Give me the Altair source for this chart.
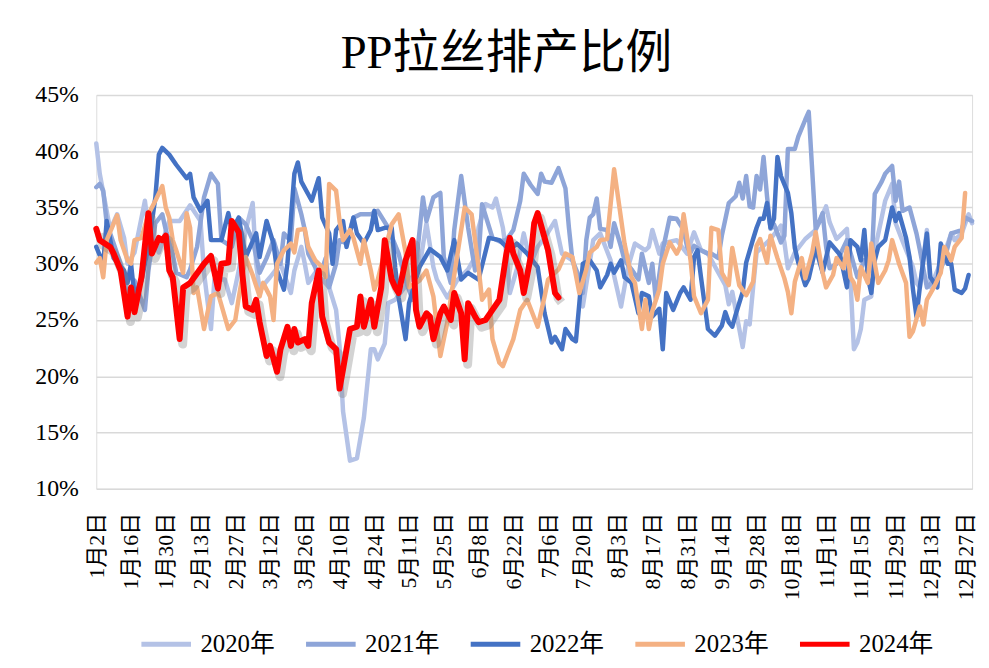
import altair as alt
import pandas as pd

# x-axis category labels (every 10th trading day)
tick_labels = ["1月2日", "1月16日", "1月30日", "2月13日", "2月27日", "3月12日", "3月26日",
               "4月10日", "4月24日", "5月11日", "5月25日", "6月8日", "6月22日", "7月6日",
               "7月20日", "8月3日", "8月17日", "8月31日", "9月14日", "9月28日", "10月18日",
               "11月1日", "11月15日", "11月29日", "12月13日", "12月27日"]

years = ["2020年", "2021年", "2022年", "2023年", "2024年"]
colors = ["#B4C2E6", "#8EA5D8", "#4472C4", "#F4B183", "#FF0000"]

# ---- 2020 ----
idx_2020 = [0, 1, 3, 4, 6, 8, 9, 11, 14, 15, 18, 21, 24, 27, 30, 31, 33, 34, 37, 39, 41, 43, 45, 46, 47,
            50, 53, 56, 57, 59, 60, 61, 63, 65, 67, 69, 70, 71, 73, 75, 77, 79, 80, 81, 83, 84, 86, 89,
            93, 95, 97, 98, 101, 104, 107, 109, 110, 112, 114, 115, 117, 118, 119, 121, 123, 125, 127,
            129, 132, 134, 137, 139, 140, 143, 145, 148, 151, 153, 155, 158, 159, 160, 162, 163, 167,
            170, 172, 174, 176, 179, 181, 182, 183, 186, 187, 188, 189, 190, 194, 197, 198, 199, 201,
            204, 207, 210, 211, 213, 216, 217, 218, 219, 220, 221, 223, 224, 226, 227, 229, 230, 232,
            235, 236, 237, 239, 240, 242, 244, 246, 247, 249, 251, 252]
val_2020 = [40.7, 38.0, 34.7, 33.0, 34.4, 32.3, 30.0, 31.0, 35.6, 33.0, 31.0, 33.8, 33.8, 35.2, 33.8, 29.2,
            24.2, 28.6, 28.6, 26.5, 29.4, 33.0, 35.4, 30.0, 27.7, 28.8, 30.0, 27.4, 29.4, 31.5, 30.0,
            28.3, 29.2, 28.6, 27.9, 25.9, 22.7, 16.9, 12.5, 12.7, 16.3, 22.4, 22.4, 21.5, 22.9, 26.5,
            26.8, 28.0, 29.7, 33.6, 29.7, 28.6, 27.0, 28.6, 29.5, 30.6, 33.2, 35.3, 35.0, 35.8, 33.2,
            30.9, 27.4, 29.5, 32.7, 30.0, 31.5, 32.3, 33.8, 30.9, 30.3, 28.3, 26.2, 32.1, 32.7, 30.3,
            26.2, 29.7, 31.8, 31.2, 31.5, 33.0, 30.9, 31.8, 32.1, 30.9, 32.8, 31.2, 30.9, 29.2, 28.1,
            26.4, 27.5, 22.6, 24.9, 24.6, 27.9, 31.0, 32.2, 33.4, 31.9, 29.6, 31.0, 32.2, 33.0, 35.1,
            33.7, 32.2, 33.1, 28.6, 22.4, 23.0, 24.2, 26.8, 27.1, 31.2, 34.1, 35.6, 37.1, 33.6, 32.0,
            29.7, 28.3, 27.9, 33.0, 27.9, 29.4, 30.9, 32.7, 32.1, 32.7, 34.4, 33.6]

# ---- 2021 ----
idx_2021 = [0, 1, 2, 3, 7, 9, 11, 14, 15, 17, 19, 20, 22, 23, 26, 27, 29, 31, 33, 35, 36, 39, 41, 43, 45,
            47, 49, 51, 53, 54, 56, 57, 59, 60, 61, 63, 64, 66, 67, 69, 70, 72, 74, 76, 79, 81, 84, 87,
            89, 91, 94, 95, 97, 99, 100, 102, 103, 105, 107, 109, 110, 111, 114, 116, 118, 120, 122,
            123, 125, 127, 128, 129, 131, 133, 135, 136, 137, 139, 140, 141, 142, 143, 144, 145, 147,
            148, 149, 151, 152, 154, 156, 157, 159, 160, 161, 163, 165, 167, 169, 170, 171, 172, 174,
            176, 177, 179, 180, 182, 184, 185, 186, 187, 188, 189, 190, 191, 192, 193, 194, 195, 197,
            198, 199, 201, 202, 204, 205, 207, 208, 209, 210, 211, 213, 214, 216, 217, 219, 221, 223,
            224, 226, 227, 229, 230, 231, 232, 234, 236, 237, 239, 240, 242, 244, 246, 247, 249, 250,
            252]
val_2021 = [36.8, 37.1, 36.5, 33.6, 30.0, 27.1, 28.5, 25.9, 29.4, 33.6, 34.4, 33.0, 30.9, 29.2, 28.8, 29.5,
            31.5, 35.9, 38.0, 37.1, 32.1, 31.5, 34.1, 33.5, 32.1, 29.2, 30.5, 32.1, 30.0, 32.7, 32.0,
            36.7, 34.4, 33.0, 30.9, 29.7, 28.6, 30.5, 27.9, 30.0, 32.1, 31.8, 34.1, 34.4, 34.4, 34.7,
            33.2, 30.9, 28.5, 26.8, 35.9, 33.8, 35.9, 36.3, 30.6, 28.3, 33.0, 37.8, 33.2, 29.4, 30.5,
            35.3, 32.3, 32.0, 32.1, 33.0, 35.6, 38.0, 37.0, 36.2, 38.0, 37.3, 37.2, 38.5, 36.7, 33.2,
            30.3, 28.8, 27.4, 32.1, 34.1, 34.4, 35.8, 33.1, 33.0, 31.5, 33.6, 31.5, 30.3, 29.5, 28.6,
            30.9, 28.3, 30.0, 26.8, 31.2, 34.1, 34.0, 33.0, 31.5, 31.0, 31.6, 31.2, 30.9, 30.9, 30.5,
            32.5, 35.4, 36.0, 37.2, 35.8, 37.8, 35.1, 35.0, 37.8, 36.6, 39.5, 36.0, 33.1, 33.5, 31.9,
            32.5, 40.2, 40.2, 41.3, 42.8, 43.5, 33.1, 33.7, 34.5, 31.5, 29.6, 30.0, 30.8, 32.1, 31.0,
            28.8, 30.3, 29.4, 36.2, 37.3, 38.0, 38.7, 35.6, 37.3, 34.7, 35.0, 32.7, 31.2, 27.9, 28.2,
            28.8, 30.3, 32.7, 32.8, 33.0, 34.1, 33.8]

# ---- 2022 ----
idx_2022 = [0, 2, 3, 5, 8, 9, 10, 11, 13, 15, 17, 18, 19, 21, 23, 26, 27, 28, 30, 32, 33, 36, 38, 39, 41,
            43, 46, 47, 49, 51, 52, 54, 55, 57, 58, 59, 62, 64, 65, 67, 68, 69, 71, 72, 74, 75, 77, 79,
            80, 81, 83, 85, 86, 87, 89, 90, 93, 96, 99, 101, 103, 105, 107, 110, 113, 116, 119, 121,
            124, 127, 129, 131, 132, 134, 135, 137, 138, 139, 140, 142, 144, 145, 147, 148, 149, 151,
            152, 154, 156, 157, 159, 160, 162, 163, 164, 166, 168, 169, 171, 172, 173, 174, 176, 178,
            180, 181, 182, 183, 184, 186, 187, 189, 190, 191, 192, 193, 194, 195, 196, 197, 199, 200,
            201, 202, 204, 205, 207, 209, 211, 214, 216, 217, 219, 220, 221, 222, 223, 224, 225, 227,
            229, 230, 231, 233, 234, 235, 236, 237, 239, 240, 242, 243, 245, 246, 247, 249, 250, 251]
val_2022 = [31.5, 30.0, 33.8, 30.5, 29.4, 28.3, 30.0, 27.1, 28.5, 31.5, 35.9, 39.7, 40.3, 39.7, 38.8, 37.6,
            38.0, 35.9, 34.7, 35.6, 32.1, 32.1, 34.5, 33.0, 34.1, 30.6, 32.7, 30.6, 33.8, 31.8, 29.4,
            27.7, 30.0, 38.0, 39.0, 37.3, 35.6, 37.6, 34.1, 32.7, 30.0, 33.0, 33.8, 31.5, 34.1, 32.7,
            31.8, 33.0, 34.7, 33.0, 33.2, 33.2, 29.7, 27.0, 23.3, 26.5, 29.7, 31.3, 30.6, 29.4, 32.1,
            28.6, 29.2, 28.6, 32.3, 32.1, 31.2, 31.8, 30.9, 29.7, 25.6, 23.0, 23.5, 22.4, 24.2, 23.3,
            23.1, 26.5, 30.0, 30.3, 29.4, 27.9, 29.0, 30.0, 29.2, 30.3, 28.8, 28.3, 25.6, 27.4, 27.1,
            25.3, 26.0, 22.4, 27.4, 25.9, 27.4, 27.9, 26.8, 30.6, 31.2, 28.8, 24.2, 23.6, 24.5, 25.7,
            24.8, 24.4, 25.5, 27.5, 30.1, 32.2, 33.2, 34.0, 34.0, 35.4, 33.2, 34.0, 39.5, 37.8, 36.3,
            34.5, 31.4, 30.1, 28.1, 28.7, 31.4, 29.2, 31.9, 30.8, 27.9, 32.1, 31.5, 30.3, 33.0, 28.8,
            27.4, 30.3, 31.5, 32.1, 35.0, 33.8, 34.5, 32.3, 30.6, 27.7, 25.3, 28.0, 32.7, 28.8, 27.9,
            31.8, 30.0, 30.0, 27.7, 27.4, 27.8, 29.0]

# ---- 2023 ----
idx_2023 = [0, 1, 2, 3, 6, 7, 9, 10, 11, 13, 15, 17, 19, 20, 21, 22, 23, 25, 26, 27, 28, 29, 31, 33, 35,
            38, 40, 41, 43, 45, 47, 48, 50, 51, 52, 54, 56, 57, 58, 60, 61, 63, 65, 66, 67, 69, 70, 71,
            73, 74, 76, 77, 79, 80, 81, 84, 85, 87, 89, 90, 93, 95, 97, 99, 101, 103, 106, 108, 110,
            111, 113, 114, 116, 117, 120, 122, 124, 127, 129, 130, 133, 135, 137, 139, 141, 142, 144,
            145, 147, 149, 150, 152, 154, 155, 157, 158, 159, 160, 162, 163, 165, 167, 168, 169, 171,
            172, 174, 176, 177, 179, 180, 182, 183, 185, 187, 189, 190, 191, 193, 194, 196, 198, 199,
            200, 201, 203, 204, 206, 207, 209, 210, 212, 213, 215, 216, 217, 218, 219, 220, 222, 223,
            225, 227, 228, 229, 231, 233, 234, 235, 237, 238, 239, 241, 243, 244, 246, 247, 249, 250]
val_2023 = [30.1, 30.5, 28.8, 32.1, 34.3, 32.1, 30.3, 30.0, 32.1, 32.3, 34.4, 35.6, 36.9, 35.0, 34.1, 32.1,
            31.2, 29.2, 34.5, 33.2, 27.4, 27.9, 24.2, 27.1, 27.4, 24.2, 25.0, 27.0, 30.6, 29.0, 27.1,
            28.3, 27.1, 25.0, 30.0, 31.2, 31.8, 31.0, 33.0, 33.1, 31.5, 30.3, 29.7, 28.8, 37.1, 36.5,
            33.8, 32.1, 33.0, 32.3, 30.0, 32.1, 29.4, 27.7, 28.6, 32.3, 33.5, 34.4, 31.0, 27.9, 28.5,
            29.4, 27.1, 21.8, 24.8, 29.0, 35.0, 34.4, 29.7, 26.8, 27.7, 23.3, 21.2, 20.9, 23.3, 25.9,
            26.8, 24.4, 27.1, 28.6, 29.5, 30.9, 30.6, 27.4, 29.5, 31.0, 31.5, 32.1, 32.2, 38.4, 36.2,
            31.8, 28.8, 28.3, 24.2, 26.8, 24.2, 25.8, 27.7, 30.0, 31.9, 30.9, 31.5, 34.4, 30.3, 27.1,
            25.6, 26.8, 33.2, 33.0, 29.2, 28.1, 31.4, 28.1, 27.2, 28.4, 31.6, 32.2, 30.1, 32.5, 30.5,
            28.7, 27.5, 25.6, 28.4, 30.5, 28.7, 31.0, 32.8, 29.2, 27.9, 29.0, 30.5, 29.6, 31.4, 28.8,
            28.3, 26.8, 29.7, 28.3, 31.8, 28.3, 29.4, 30.3, 32.1, 30.0, 28.3, 23.5, 24.0, 26.2, 24.6,
            26.8, 27.9, 29.2, 31.5, 30.3, 31.5, 32.3, 36.3]

# ---- 2024 ----
idx_2024 = [0, 1, 4, 5, 7, 9, 10, 11, 13, 15, 16, 18, 19, 20, 21, 22, 24, 25, 27, 31, 33, 35, 36, 38, 39,
            41, 42, 43, 45, 46, 47, 49, 50, 52, 53, 55, 56, 57, 58, 60, 61, 62, 64, 65, 67, 69, 70, 71,
            73, 75, 76, 77, 79, 80, 82, 83, 85, 86, 87, 89, 91, 92, 93, 95, 96, 97, 99, 100, 102, 103,
            105, 106, 107, 109, 110, 112, 114, 116, 118, 119, 120, 122, 123, 125, 126, 127, 129, 130,
            132, 133]
val_2024 = [33.1, 32.1, 31.5, 30.9, 29.4, 25.3, 27.9, 25.7, 28.8, 34.5, 30.9, 32.3, 32.1, 32.5, 29.4, 28.8,
            23.3, 27.9, 28.3, 30.0, 30.7, 27.8, 30.0, 30.1, 33.8, 32.8, 29.2, 26.2, 25.9, 26.8, 24.8,
            21.8, 22.7, 20.4, 22.4, 24.4, 22.7, 24.2, 23.0, 23.3, 22.7, 26.5, 29.4, 25.3, 23.0, 22.4,
            18.9, 20.6, 24.2, 24.4, 27.1, 24.4, 26.8, 24.4, 27.9, 32.1, 28.6, 27.9, 27.4, 30.3, 32.1,
            25.9, 24.4, 25.6, 25.3, 23.3, 25.6, 26.2, 25.0, 27.4, 25.6, 21.5, 26.5, 25.3, 24.8, 25.0,
            25.9, 26.8, 30.9, 32.3, 30.9, 29.4, 27.4, 30.6, 33.6, 34.5, 32.3, 31.2, 27.4, 27.0]

series = {
    "2020年": (idx_2020, val_2020),
    "2021年": (idx_2021, val_2021),
    "2022年": (idx_2022, val_2022),
    "2023年": (idx_2023, val_2023),
    "2024年": (idx_2024, val_2024),
}
rows = []
for yr, (ix, vs) in series.items():
    for i, v in zip(ix, vs):
        rows.append({"year": yr, "idx": i, "val": v})
df = pd.DataFrame(rows)

SERIF = "Liberation Serif, Noto Sans CJK SC"
label_js = "[" + ",".join("'" + s + "'" for s in tick_labels) + "]"

x_enc = alt.X("idx:Q",
              scale=alt.Scale(domain=[0, 252], nice=False, zero=False),
              axis=alt.Axis(values=list(range(0, 251, 10)),
                            labelExpr=label_js + "[round(datum.value / 10)]",
                            labelAngle=-90, grid=False, ticks=False, domain=False,
                            labelFont=SERIF, labelFontSize=22, labelColor="#000000",
                            labelPadding=24, labelOverlap=False, labelSeparation=0,
                            labelBound=False, labelFlush=False, title=None))
y_enc = alt.Y("val:Q",
              scale=alt.Scale(domain=[10, 45], nice=False, zero=False),
              axis=alt.Axis(values=[10, 15, 20, 25, 30, 35, 40, 45],
                            labelExpr="datum.value + '%'",
                            grid=True, gridColor="#D9D9D9", gridWidth=1.5,
                            ticks=False, domain=False,
                            labelFont=SERIF, labelFontSize=24, labelColor="#000000",
                            labelPadding=18, labelOverlap=False, title=None))
color_enc = alt.Color("year:N",
                      scale=alt.Scale(domain=years, range=colors),
                      legend=alt.Legend(title=None, orient="none", direction="horizontal",
                                        legendX=43, legendY=526, columns=5,
                                        symbolType="stroke", symbolSize=2500,
                                        symbolStrokeWidth=5, labelFont=SERIF,
                                        labelFontSize=25, labelColor="#000000",
                                        labelOffset=7, columnPadding=20))

others = alt.Chart(df).transform_filter(
    alt.datum.year != "2024年"
).mark_line(strokeWidth=4.5, strokeJoin="round", strokeCap="round").encode(
    x=x_enc, y=y_enc, color=color_enc
)

shadow = alt.Chart(df).transform_filter(
    alt.datum.year == "2024年"
).mark_line(strokeWidth=9, color="#808080", opacity=0.35, xOffset=3, yOffset=5,
            strokeJoin="round").encode(x=x_enc, y=y_enc)

red = alt.Chart(df).transform_filter(
    alt.datum.year == "2024年"
).mark_line(strokeWidth=6, strokeJoin="round", strokeCap="round").encode(
    x=x_enc, y=y_enc, color=color_enc
)

chart = alt.layer(others, shadow, red).properties(
    width=883, height=397,
    title=alt.TitleParams(text="PP拉丝排产比例", font=SERIF, fontSize=47,
                          fontWeight="normal", color="#000000", anchor="middle",
                          dx=-28, offset=5),
    autosize=alt.AutoSizeParams(type="none"),
    padding={"left": 89, "top": 85, "right": 9, "bottom": 178},
).configure_view(stroke=None).configure_axis(
    labelOverlap=False
).configure(background="#FFFFFF")

chart.save("out.html", embed_options={"renderer": "svg", "actions": False})
